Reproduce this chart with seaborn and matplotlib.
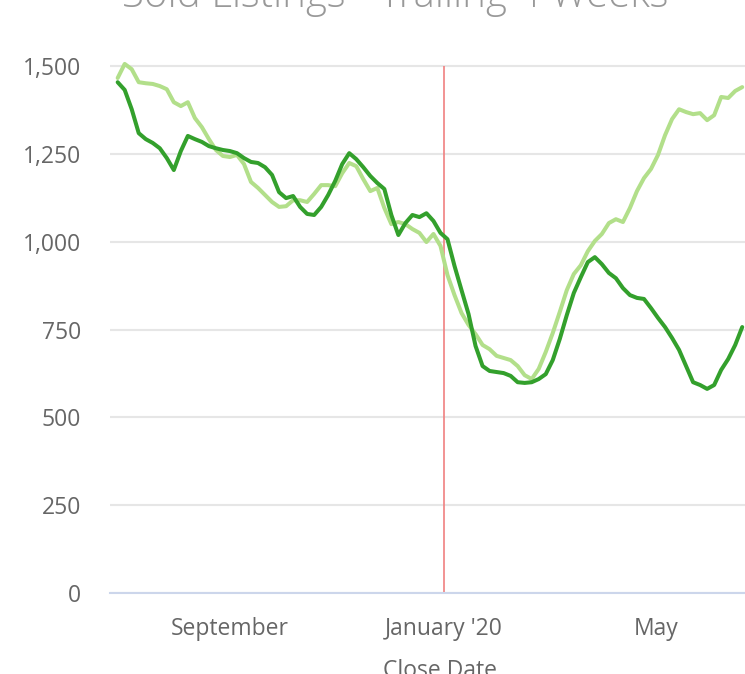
import matplotlib
matplotlib.use("Agg")
import matplotlib.pyplot as plt
import matplotlib.ticker as mticker
import numpy as np
import pandas as pd
import seaborn as sns

# trailing 4-week sold listings, sampled every 4 days
dates = pd.date_range("2019-06-29", periods=90, freq="4D")

current = [1454, 1432, 1377, 1309, 1292, 1281, 1266, 1238, 1204, 1258,
           1301, 1292, 1284, 1272, 1266, 1261, 1258, 1252, 1238, 1227,
           1224, 1212, 1190, 1141, 1124, 1130, 1099, 1079, 1076, 1099,
           1133, 1173, 1221, 1252, 1235, 1212, 1187, 1167, 1150, 1076,
           1019, 1053, 1076, 1070, 1081, 1059, 1025, 1007, 931, 862,
           794, 703, 646, 632, 629, 626, 618, 600, 598, 600,
           609, 623, 663, 723, 791, 854, 899, 942, 956, 936,
           911, 896, 868, 848, 840, 837, 811, 783, 757, 726,
           692, 646, 600, 592, 581, 592, 635, 666, 706, 757]

prior = [1466, 1506, 1491, 1454, 1451, 1449, 1443, 1434, 1397, 1386,
         1397, 1352, 1326, 1292, 1261, 1244, 1241, 1247, 1221, 1170,
         1153, 1133, 1113, 1099, 1101, 1118, 1118, 1113, 1136, 1161,
         1161, 1158, 1195, 1224, 1215, 1178, 1144, 1153, 1096, 1050,
         1056, 1050, 1036, 1025, 999, 1022, 988, 905, 848, 797,
         763, 737, 706, 694, 675, 669, 663, 646, 620, 609,
         638, 686, 740, 800, 862, 908, 933, 973, 1002, 1022,
         1053, 1064, 1056, 1096, 1144, 1181, 1207, 1247, 1303, 1349,
         1377, 1369, 1363, 1366, 1346, 1360, 1412, 1409, 1429, 1440]

marker_date = pd.Timestamp("2020-01-01")
tick_dates = pd.to_datetime(["2019-09-01", "2020-01-01", "2020-05-01"])
tick_labels = ["September", "January '20", "May"]

df = pd.DataFrame({
    "date": np.concatenate([dates, dates]),
    "count": prior + current,
    "series": ["Prior"] * len(prior) + ["Current"] * len(current),
})

sns.set_style("white")
plt.rcParams["font.family"] = ["Open Sans", "DejaVu Sans"]

fig = plt.figure(figsize=(7.45, 6.74), dpi=100)
ax = fig.add_axes([110 / 745, 81 / 674, 635 / 745, 537.5 / 674])

sns.lineplot(data=df, x="date", y="count", hue="series",
             hue_order=["Prior", "Current"],
             palette={"Prior": "#b2df8a", "Current": "#33a02c"},
             linewidth=2.9, legend=False, ax=ax)
for line in ax.get_lines():
    line.set_solid_joinstyle("round")
    line.set_solid_capstyle("round")

ax.vlines(marker_date, 0, 1500, color="#f08080", linewidth=1.2, zorder=1)

ax.set_ylim(0, 1530)
ax.set_xlim(pd.Timestamp("2019-06-24 15:00"), pd.Timestamp("2020-06-20 14:00"))
ax.set_yticks(range(0, 1501, 250))
ax.yaxis.set_major_formatter(mticker.StrMethodFormatter("{x:,.0f}"))
ax.set_xticks(tick_dates)
ax.set_xticklabels(tick_labels)

ax.grid(axis="y", color="#e6e6e6", linewidth=1.5)
ax.set_axisbelow(True)
for side in ["left", "top", "right"]:
    ax.spines[side].set_visible(False)
ax.spines["bottom"].set_color("#ccd6eb")
ax.spines["bottom"].set_linewidth(1.5)

ax.tick_params(axis="both", length=0, labelsize=16.5, labelcolor="#666666")
ax.tick_params(axis="y", pad=21)
ax.tick_params(axis="x", pad=17)
ax.set_xlabel("")
ax.set_ylabel("")

fig.text(395 / 745, 1 - 7 / 674, "Sold Listings - Trailing 4 Weeks",
         ha="center", va="baseline", fontsize=29, color="#999999",
         fontweight="light")
fig.text(440 / 745, 1 - 659 / 674, "Close Date", ha="center", va="top",
         fontsize=16.5, color="#666666")

fig.savefig("out.png", dpi=100)
